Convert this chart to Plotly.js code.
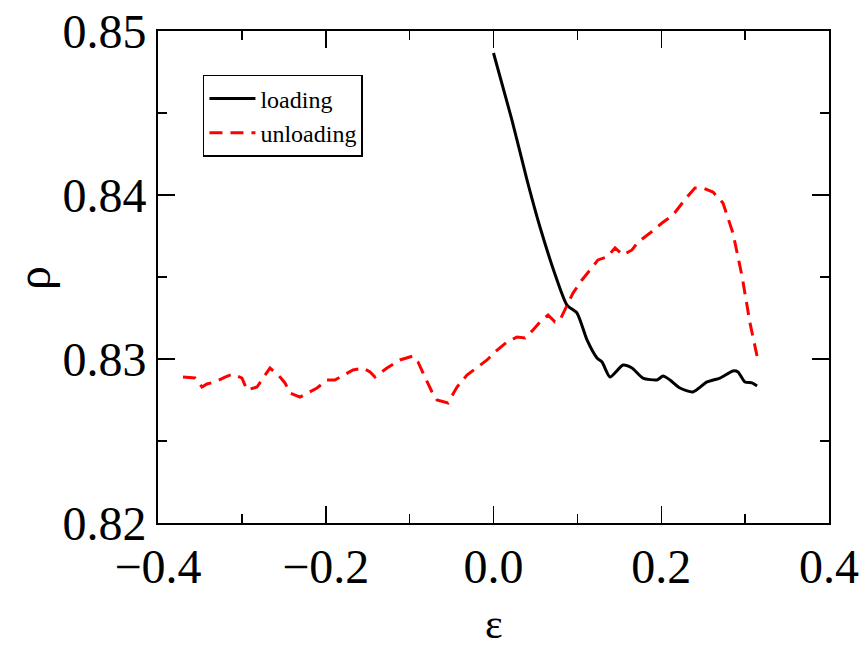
<!DOCTYPE html>
<html>
<head>
<meta charset="utf-8">
<script src="https://cdn.plot.ly/plotly-3.0.1.min.js"></script>
<style>
  html, body { margin: 0; padding: 0; background: #fff; }
  #chart { width: 865px; height: 647px; }
</style>
</head>
<body>
<div id="chart"></div>
<script>
// Loading branch: strain and density
const loadingStrain = [0.000, 0.022, 0.040, 0.0554, 0.0757, 0.0876, 0.0996, 0.1115, 0.1234, 0.1294,
  0.1389, 0.1544, 0.1651, 0.1782, 0.1949, 0.2021, 0.2104, 0.2223, 0.2378, 0.2545,
  0.2700, 0.2855, 0.2915, 0.2998, 0.3082, 0.3142];
const loadingDensity = [0.84866, 0.84457, 0.84091, 0.83805, 0.83482, 0.83329, 0.83280, 0.83116, 0.83006, 0.82982,
  0.82890, 0.82963, 0.82945, 0.82884, 0.82872, 0.82896, 0.82872, 0.82823, 0.82799, 0.82860,
  0.82884, 0.82927, 0.82921, 0.82860, 0.82854, 0.82835];

// Unloading branch: from maximum strain back to negative strain
const unloadingStrain = [0.3142, 0.3058, 0.2963, 0.2855, 0.2736, 0.2617, 0.2498, 0.2402, 0.2307, 0.2140,
  0.2009, 0.1866, 0.1723, 0.1651, 0.1544, 0.1449, 0.1353, 0.1246, 0.1151, 0.1055,
  0.0948, 0.0852, 0.0793, 0.0733, 0.0650, 0.0554, 0.0471, 0.0376, 0.0280, 0.0161,
  0.0018, -0.0077, -0.0197, -0.0316, -0.0435, -0.0542, -0.0674, -0.0733, -0.0817, -0.0900,
  -0.0960, -0.1115, -0.1270, -0.1413, -0.1472, -0.1556, -0.1675, -0.1794, -0.1890, -0.1985,
  -0.2104, -0.2307, -0.2426, -0.2486, -0.2545, -0.2665, -0.2724, -0.2820, -0.2939, -0.2999,
  -0.3106, -0.3201, -0.3320, -0.3416, -0.3475, -0.3559, -0.3702];
const unloadingDensity = [0.83018, 0.83220, 0.83506, 0.83768, 0.83951, 0.84018, 0.84043, 0.84043, 0.83988, 0.83878,
  0.83829, 0.83768, 0.83713, 0.83665, 0.83634, 0.83677, 0.83622, 0.83604, 0.83543, 0.83482,
  0.83402, 0.83299, 0.83238, 0.83226, 0.83268, 0.83226, 0.83177, 0.83128, 0.83134, 0.83104,
  0.83043, 0.82994, 0.82945, 0.82902, 0.82829, 0.82732, 0.82750, 0.82799, 0.82890, 0.82982,
  0.83018, 0.82994, 0.82945, 0.82890, 0.82921, 0.82945, 0.82933, 0.82902, 0.82872, 0.82872,
  0.82823, 0.82768, 0.82793, 0.82854, 0.82890, 0.82945, 0.82902, 0.82829, 0.82811, 0.82884,
  0.82908, 0.82890, 0.82860, 0.82848, 0.82829, 0.82884, 0.82890];

const seriesNames = ['loading', 'unloading'];
const xTitle = 'ε';
const yTitle = 'ρ';

const serif = '"Liberation Serif", "Times New Roman", serif';

const traces = [
  {
    x: loadingStrain, y: loadingDensity, name: seriesNames[0],
    type: 'scatter', mode: 'lines',
    line: { color: '#000000', width: 3, shape: 'spline', smoothing: 0.6 }
  },
  {
    x: unloadingStrain, y: unloadingDensity, name: seriesNames[1],
    type: 'scatter', mode: 'lines',
    line: { color: '#ff0000', width: 3, dash: '13px,8px' }
  }
];

const axisCommon = {
  showgrid: false, zeroline: false,
  showline: true, linecolor: '#000', linewidth: 2,
  mirror: 'ticks',
  ticks: 'inside', ticklen: 17, tickwidth: 1.5, tickcolor: '#000',
  tickfont: { family: serif, size: 48, color: '#000' }
};

const layout = {
  width: 865, height: 647,
  margin: { l: 158, r: 36, t: 31, b: 124 },
  paper_bgcolor: '#fff', plot_bgcolor: '#fff',
  showlegend: true,
  legend: {
    x: 0.067, y: 0.9106, xanchor: 'left', yanchor: 'top',
    bgcolor: '#fff', bordercolor: '#000', borderwidth: 1.5,
    font: { family: serif, size: 24, color: '#000' },
    itemwidth: 46
  },
  xaxis: Object.assign({}, axisCommon, {
    range: [-0.4, 0.4], dtick: 0.2, tick0: 0, tickformat: '.1f',
    minor: { dtick: 0.1, ticklen: 9, tickwidth: 1.5, tickcolor: '#000', ticks: 'inside' }
  }),
  yaxis: Object.assign({}, axisCommon, {
    range: [0.82, 0.85], dtick: 0.01, tick0: 0.82, tickformat: '.2f',
    minor: { dtick: 0.005, ticklen: 9, tickwidth: 1.5, tickcolor: '#000', ticks: 'inside' }
  }),
  // axis titles placed as paper annotations
  annotations: [
    {
      text: xTitle, xref: 'paper', yref: 'paper', x: 0.5, y: -0.2053,
      xanchor: 'center', yanchor: 'middle', showarrow: false,
      font: { family: serif, size: 42, color: '#000' }
    },
    {
      text: yTitle, xref: 'paper', yref: 'paper', x: -0.1848, y: 0.498,
      xanchor: 'center', yanchor: 'middle', showarrow: false, textangle: -90,
      font: { family: serif, size: 48, color: '#000' }
    }
  ]
};

Plotly.newPlot('chart', traces, layout, { displayModeBar: false, staticPlot: true });
</script>
</body>
</html>
